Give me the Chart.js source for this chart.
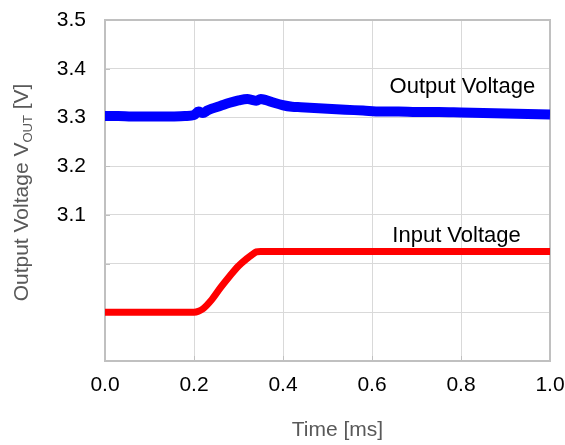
<!DOCTYPE html>
<html>
<head>
<meta charset="utf-8">
<script src="https://cdn.jsdelivr.net/npm/chart.js@4/dist/chart.umd.min.js"></script>
<style>
  html, body { margin: 0; padding: 0; background: #fff; }
  #wrap { width: 565px; height: 445px; }
</style>
</head>
<body>
<div id="wrap"><canvas id="c" width="565" height="445"></canvas></div>
<script>
// output voltage trace (ms, V)
const outTime = [0.00, 0.03, 0.06, 0.09, 0.12, 0.15, 0.18, 0.20, 0.21, 0.22, 0.23, 0.24, 0.26, 0.28, 0.30, 0.32, 0.33, 0.34, 0.35, 0.36, 0.38, 0.40, 0.42, 0.44, 0.46, 0.48, 0.50, 0.54, 0.58, 0.62, 0.66, 0.70, 0.75, 0.80, 0.85, 0.90, 0.95, 1.00];
const outVolt = [3.303, 3.303, 3.302, 3.302, 3.302, 3.302, 3.303, 3.305, 3.312, 3.309, 3.314, 3.318, 3.324, 3.330, 3.335, 3.338, 3.336, 3.334, 3.338, 3.336, 3.330, 3.325, 3.322, 3.321, 3.320, 3.319, 3.318, 3.316, 3.314, 3.312, 3.312, 3.311, 3.311, 3.310, 3.309, 3.308, 3.307, 3.306];

// input voltage trace (ms, V on same grid)
const inTime = [0.00, 0.10, 0.20, 0.21, 0.22, 0.24, 0.26, 0.28, 0.30, 0.32, 0.33, 0.34, 0.35, 0.40, 0.60, 0.80, 1.00];
const inVolt = [2.900, 2.900, 2.900, 2.902, 2.907, 2.926, 2.951, 2.974, 2.995, 3.011, 3.018, 3.024, 3.025, 3.025, 3.025, 3.025, 3.025];

// axis ticks
const xTicks = [0.0, 0.2, 0.4, 0.6, 0.8, 1.0];
const yTicks = [2.8, 2.9, 3.0, 3.1, 3.2, 3.3, 3.4, 3.5];
const yLabelled = ['3.1', '3.2', '3.3', '3.4', '3.5'];

// trace labels: text, x (ms), y (V)
const labelText = ['Output Voltage', 'Input Voltage'];
const labelX = [0.803, 0.79];
const labelY = [3.362, 3.057];

const FONT = "'Liberation Sans', Arial, sans-serif";

const framePlugin = {
    id: 'frame',
    beforeDatasetsDraw(chart) {
        const { ctx, chartArea: a } = chart;
        const xs = chart.scales.x, ys = chart.scales.y;
        ctx.save();
        ctx.strokeStyle = '#c0c0c0';
        ctx.lineWidth = 1;
        // small inward tick marks
        yTicks.forEach(v => {
            const y = Math.round(ys.getPixelForValue(v)) + 0.5;
            ctx.beginPath();
            ctx.moveTo(a.left, y);
            ctx.lineTo(a.left + 5, y);
            ctx.stroke();
        });
        xTicks.forEach(v => {
            const x = Math.round(xs.getPixelForValue(v)) + 0.5;
            ctx.beginPath();
            ctx.moveTo(x, a.bottom);
            ctx.lineTo(x, a.bottom - 5);
            ctx.stroke();
        });
        ctx.lineWidth = 2;
        ctx.strokeRect(a.left, a.top, a.right - a.left, a.bottom - a.top);
        ctx.restore();
    }
};

const textPlugin = {
    id: 'texts',
    afterDraw(chart) {
        const { ctx, chartArea: a } = chart;
        const xs = chart.scales.x, ys = chart.scales.y;
        ctx.save();
        // trace labels
        ctx.fillStyle = '#000';
        ctx.font = '22px ' + FONT;
        ctx.textAlign = 'center';
        ctx.textBaseline = 'middle';
        labelText.forEach((t, i) => {
            ctx.fillText(t, xs.getPixelForValue(labelX[i]), ys.getPixelForValue(labelY[i]));
        });

        // x axis title (sits a little right of centre in the original)
        ctx.fillStyle = '#595959';
        ctx.font = '21px ' + FONT;
        ctx.fillText('Time [ms]', (a.left + a.right) / 2 + 10, 430);

        // y axis title with subscript
        const mainFont = '21px ' + FONT;
        const subFont = '13px ' + FONT;
        const parts = [
            { t: 'Output Voltage V', f: mainFont, dy: 0 },
            { t: 'OUT', f: subFont, dy: 4 },
            { t: ' [V]', f: mainFont, dy: 0 }
        ];
        let total = 0;
        parts.forEach(p => { ctx.font = p.f; p.w = ctx.measureText(p.t).width; total += p.w; });
        ctx.translate(28, (a.top + a.bottom) / 2 + 2);
        ctx.rotate(-Math.PI / 2);
        ctx.textAlign = 'left';
        ctx.textBaseline = 'alphabetic';
        let x = -total / 2;
        parts.forEach(p => {
            ctx.font = p.f;
            ctx.fillText(p.t, x, p.dy);
            x += p.w;
        });
        ctx.restore();
    }
};

function noEdgePadding(scale) {
    scale.paddingTop = 0;
    scale.paddingBottom = 0;
    scale.paddingLeft = 0;
    scale.paddingRight = 0;
}

new Chart(document.getElementById('c'), {
    type: 'line',
    data: {
        datasets: [
            {
                label: 'Output Voltage',
                data: outTime.map((t, i) => ({ x: t, y: outVolt[i] })),
                borderColor: '#0000ff',
                borderWidth: 10,
                pointRadius: 0,
                cubicInterpolationMode: 'monotone',
                fill: false
            },
            {
                label: 'Input Voltage',
                data: inTime.map((t, i) => ({ x: t, y: inVolt[i] })),
                borderColor: '#ff0000',
                borderWidth: 7,
                pointRadius: 0,
                cubicInterpolationMode: 'monotone',
                fill: false
            }
        ]
    },
    options: {
        responsive: false,
        animation: false,
        layout: { padding: { top: 20, right: 15, left: 0, bottom: 0 } },
        plugins: {
            legend: { display: false },
            tooltip: { enabled: false }
        },
        scales: {
            x: {
                type: 'linear',
                min: 0,
                max: 1,
                afterBuildTicks(scale) { scale.ticks = xTicks.map(v => ({ value: v })); },
                afterFit(scale) { scale.height = 84; noEdgePadding(scale); },
                grid: { color: '#d9d9d9', lineWidth: 1, drawTicks: false },
                border: { display: false },
                ticks: {
                    padding: 12,
                    color: '#000',
                    font: { family: FONT, size: 21 },
                    maxRotation: 0,
                    callback: v => v.toFixed(1)
                }
            },
            y: {
                min: 2.8,
                max: 3.5,
                afterBuildTicks(scale) { scale.ticks = yTicks.map(v => ({ value: v })); },
                afterFit(scale) { scale.width = 105; noEdgePadding(scale); },
                grid: { color: '#d9d9d9', lineWidth: 1, drawTicks: false },
                border: { display: false },
                ticks: {
                    padding: 19,
                    color: '#000',
                    font: { family: FONT, size: 21 },
                    callback: v => yLabelled.includes(v.toFixed(1)) ? v.toFixed(1) : ''
                }
            }
        }
    },
    plugins: [framePlugin, textPlugin]
});
</script>
</body>
</html>
